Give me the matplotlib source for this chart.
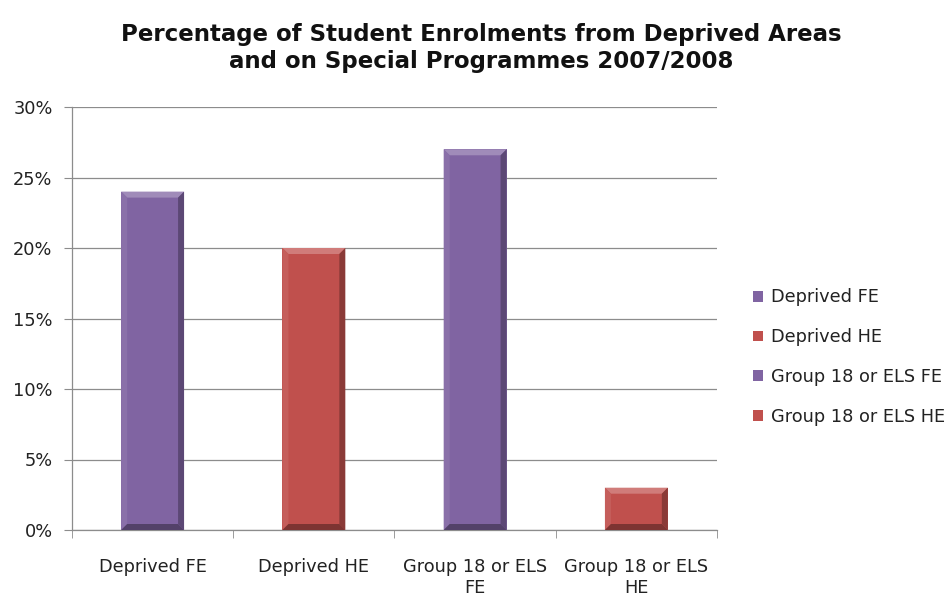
import matplotlib
matplotlib.use("Agg")
import matplotlib.pyplot as plt
from matplotlib.patches import Polygon, Patch
from matplotlib.ticker import PercentFormatter, FixedLocator
import numpy as np

plt.rcParams['font.family'] = ['DejaVu Sans']

categories = ["Deprived FE", "Deprived HE", "Group 18 or ELS\nFE", "Group 18 or ELS\nHE"]
legend_labels = ["Deprived FE", "Deprived HE", "Group 18 or ELS FE", "Group 18 or ELS HE"]
values = [0.24, 0.20, 0.27, 0.03]
colors = ["#8064A2", "#C0504D", "#8064A2", "#C0504D"]
title = "Percentage of Student Enrolments from Deprived Areas\nand on Special Programmes 2007/2008"


def shade(hex_color, factor):
    rgb = np.array(matplotlib.colors.to_rgb(hex_color))
    if factor >= 1:
        rgb = rgb + (1 - rgb) * (factor - 1)
    else:
        rgb = rgb * factor
    return tuple(np.clip(rgb, 0, 1))


W, H = 948, 599
fig = plt.figure(figsize=(W / 100, H / 100), dpi=100)
ax = fig.add_axes([72 / W, 69 / H, 645 / W, 423 / H])

x = np.arange(len(categories))
bar_w = 0.39
bars = ax.bar(x, values, width=bar_w, color=colors, zorder=2, linewidth=0)

ax.set_xlim(-0.5, len(categories) - 0.5)
ax.set_ylim(0, 0.30)

# bevel size in data units (about 6 px)
px_x = (len(categories)) / 645
px_y = 0.30 / 423
bx, by = 6 * px_x, 6 * px_y
for xi, v, c in zip(x, values, colors):
    l, r = xi - bar_w / 2, xi + bar_w / 2
    t, b = v, 0
    faces = [
        ([(l, t), (r, t), (r - bx, t - by), (l + bx, t - by)], shade(c, 1.25)),
        ([(l, b), (l, t), (l + bx, t - by), (l + bx, b + by)], shade(c, 1.08)),
        ([(r, b), (r, t), (r - bx, t - by), (r - bx, b + by)], shade(c, 0.72)),
        ([(l, b), (r, b), (r - bx, b + by), (l + bx, b + by)], shade(c, 0.65)),
    ]
    for pts, fc in faces:
        ax.add_patch(Polygon(pts, closed=True, facecolor=fc, edgecolor='none', zorder=3))

ax.yaxis.set_major_locator(FixedLocator(np.arange(0, 0.31, 0.05)))
ax.yaxis.set_major_formatter(PercentFormatter(1.0, decimals=0))
ax.grid(axis='y', color='#8c8c8c', linewidth=0.9, zorder=0)

ax.set_xticks(x)
ax.set_xticklabels(categories, fontsize=12.8, color='#222222', linespacing=1.25)
ax.set_xticks(np.arange(-0.5, len(categories)), minor=True)
ax.tick_params(axis='x', which='major', length=0, pad=20)
ax.tick_params(axis='x', which='minor', length=6, color='#8c8c8c', direction='out')
ax.tick_params(axis='y', length=6, color='#8c8c8c', labelsize=12.8, labelcolor='#222222', pad=8)

for side in ['top', 'right']:
    ax.spines[side].set_visible(False)
for side in ['left', 'bottom']:
    ax.spines[side].set_color('#8c8c8c')
    ax.spines[side].set_linewidth(0.9)

fig.text(481 / W, 1 - 73 / H, title, ha='center', va='bottom', fontsize=16.5, fontweight='bold',
         color='#111111', linespacing=1.25)

handles = [Patch(facecolor=c, edgecolor='none') for c in colors]
fig.legend(handles, legend_labels, loc='center left', bbox_to_anchor=(737 / W, 1 - 357 / H),
           frameon=False, fontsize=12.8, labelspacing=1.22, handlelength=0.55, handleheight=0.55,
           handletextpad=0.45, labelcolor='#222222')

fig.savefig("out.png", dpi=100)
